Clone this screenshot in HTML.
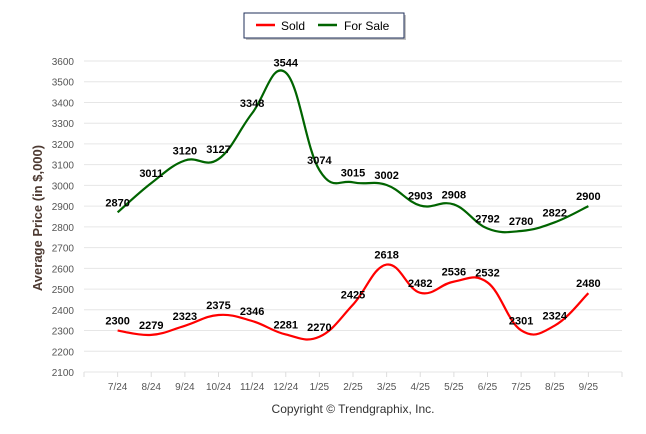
<!DOCTYPE html>
<html><head><meta charset="utf-8"><style>
body{margin:0;background:#fff;}
svg{display:block;font-family:"Liberation Sans",Arial,sans-serif;}
</style></head><body>
<svg id="chart" width="646" height="434" viewBox="0 0 646 434">
<g>
<rect x="246" y="15" width="160" height="25" fill="#888" opacity="0.5"/>
<rect x="244" y="13" width="160" height="25" fill="#fff" stroke="#1f2f5a" stroke-width="1"/>
<g><line x1="256" y1="25" x2="275" y2="25" stroke="#ff0000" stroke-width="2.5"/><text x="281" y="30" font-size="12" fill="#000">Sold</text></g>
<g><line x1="318" y1="25" x2="337" y2="25" stroke="#006400" stroke-width="2.5"/><text x="344" y="30" font-size="12" fill="#000">For Sale</text></g>
</g>
<g id="grid"></g>
<g id="yt"></g>
<g id="xt"></g>
<g id="series"></g>
<text transform="translate(42,218) rotate(-90)" text-anchor="middle" font-size="13" font-weight="bold" fill="#4d3a32">Average Price (in $,000)</text>
<text x="353" y="413" text-anchor="middle" font-size="12" fill="#333">Copyright © Trendgraphix, Inc.</text>
</svg>
<script>
const categories=["7/24","8/24","9/24","10/24","11/24","12/24","1/25","2/25","3/25","4/25","5/25","6/25","7/25","8/25","9/25"];
const soldValues=[2300,2279,2323,2375,2346,2281,2270,2425,2618,2482,2536,2532,2301,2324,2480];
const forSaleValues=[2870,3011,3120,3127,3348,3544,3074,3015,3002,2903,2908,2792,2780,2822,2900];
const yTicks=[2100,2200,2300,2400,2500,2600,2700,2800,2900,3000,3100,3200,3300,3400,3500,3600];
const NS="http://www.w3.org/2000/svg";
const x0=84,x1=622,yMin=2100,yMax=3600,yB=372,yT=61;
const step=(x1-x0)/(categories.length+1);
const xs=i=>x0+step*(i+1);
const ys=v=>yB-(v-yMin)/(yMax-yMin)*(yB-yT);
function mk(tag,attrs,parent){const e=document.createElementNS(NS,tag);for(const k in attrs)e.setAttribute(k,attrs[k]);parent.appendChild(e);return e;}
const grid=document.getElementById('grid'),yt=document.getElementById('yt'),xt=document.getElementById('xt'),ser=document.getElementById('series');
yTicks.forEach(v=>{
 const l=mk('line',{x1:x0,x2:x1,y1:ys(v),y2:ys(v),stroke:'#e6e6e6','stroke-width':1},grid);
 
 
 const t=mk('text',{x:74,y:ys(v)+4,'text-anchor':'end','font-size':10,fill:'#555'},yt);
 t.textContent=v;
 
 
});
mk('line',{x1:x0,x2:x0,y1:yB,y2:yB+5,stroke:'#ddd'},xt);
mk('line',{x1:x1,x2:x1,y1:yB,y2:yB+5,stroke:'#ddd'},xt);
categories.forEach((c,i)=>{
 mk('line',{x1:xs(i),x2:xs(i),y1:yB,y2:yB+5,stroke:'#ddd'},xt);
 const t=mk('text',{x:xs(i),y:yB+18,'text-anchor':'middle','font-size':10,fill:'#555'},xt);
 t.textContent=c;
 
 
});
function path(vals){
 const p=vals.map((v,i)=>[xs(i),ys(v)]);
 let d='M'+p[0][0]+','+p[0][1];
 for(let i=0;i<p.length-1;i++){
  const a=p[i-1]||p[i],b=p[i],c=p[i+1],e=p[i+2]||c;
  const k=0.2;
  d+=' C'+(b[0]+(c[0]-a[0])*k)+','+(b[1]+(c[1]-a[1])*k)+' '+(c[0]-(e[0]-b[0])*k)+','+(c[1]-(e[1]-b[1])*k)+' '+c[0]+','+c[1];
 }
 return d;
}
function draw(vals,color,name){
 const pth=mk('path',{d:path(vals),fill:'none',stroke:color,'stroke-width':2.2},ser);
 
 
 vals.forEach((v,i)=>{
  const t=mk('text',{x:xs(i),y:ys(v)-6,'text-anchor':'middle','font-size':11,'font-weight':'bold',fill:'#000'},ser);
  t.textContent=v;
  
  
 });
}
draw(forSaleValues,'#006400','for-sale');
draw(soldValues,'#ff0000','sold');
</script>
</body></html>
